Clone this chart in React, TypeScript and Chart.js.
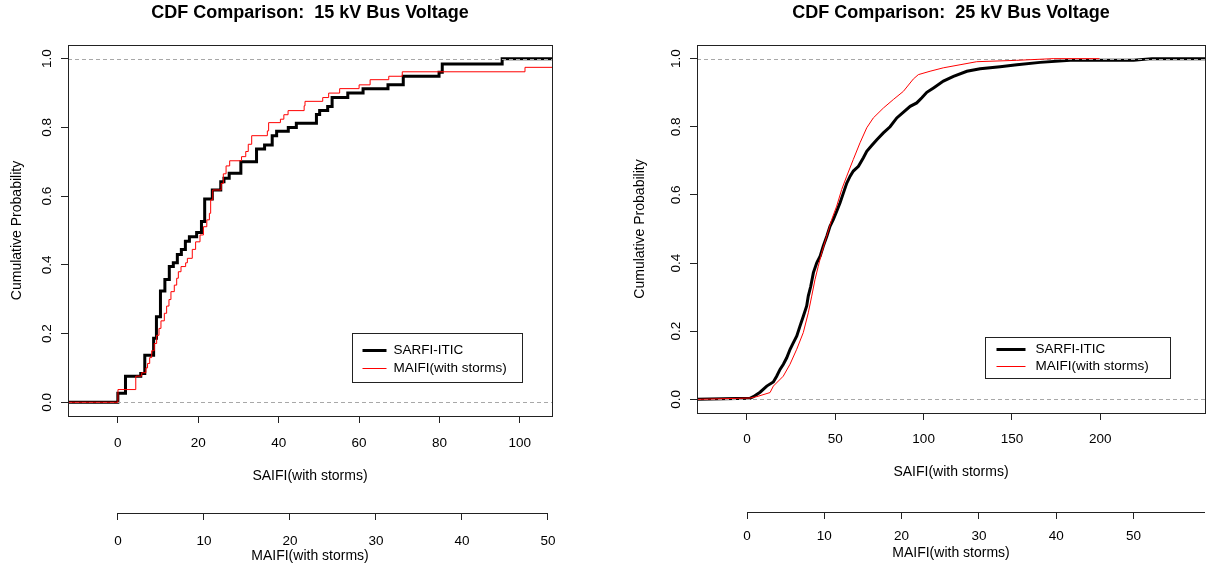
import React, { useEffect, useRef } from "react";
import { Chart, registerables } from "chart.js";

Chart.register(...registerables);

// ---------------- data ----------------

const Y_TICKS = [0, 0.2, 0.4, 0.6, 0.8, 1.0];
const Y_RANGE = [-0.04, 1.04];

// 15 kV bus: SARFI-ITIC empirical CDF on the SAIFI axis
const SARFI_15_X = [0, 1.9, 5.7, 6.7, 8.9, 9.6, 10.6, 11.7, 12.8, 13.8, 14.8, 15.8, 16.8, 17.8, 19.6, 20.8, 21.6, 23.5, 25.6, 26.4, 27.7, 30.6, 34.5, 36.5, 38.4, 39.5, 42.4, 44.4, 49.4, 50.2, 52.2, 53.3, 57.2, 61.0, 67.2, 71.0, 79.9, 80.7, 95.6];
const SARFI_15_P = [0.026, 0.076, 0.084, 0.137, 0.186, 0.249, 0.324, 0.357, 0.395, 0.406, 0.43, 0.445, 0.469, 0.482, 0.494, 0.526, 0.592, 0.618, 0.642, 0.652, 0.667, 0.7, 0.737, 0.749, 0.776, 0.789, 0.8, 0.812, 0.838, 0.849, 0.861, 0.887, 0.9, 0.913, 0.924, 0.949, 0.961, 0.985, 1.0];

// 15 kV bus: MAIFI empirical CDF on the MAIFI axis
const MAIFI_15_X = [0, 2.07, 2.76, 3.25, 3.44, 3.69, 3.92, 4.22, 4.5, 4.77, 5.0, 5.39, 5.66, 5.93, 6.16, 6.55, 6.83, 7.02, 7.33, 7.87, 8.07, 8.64, 9.03, 9.54, 9.94, 10.33, 10.63, 10.78, 11.02, 12.0, 12.25, 12.57, 12.99, 14.37, 14.86, 15.15, 15.55, 17.37, 17.52, 18.89, 19.29, 19.78, 21.65, 21.75, 23.81, 24.5, 25.78, 28.04, 29.32, 31.49, 33.06, 47.33];
const MAIFI_15_P = [0.037, 0.076, 0.086, 0.1, 0.113, 0.13, 0.15, 0.171, 0.195, 0.215, 0.237, 0.259, 0.28, 0.299, 0.322, 0.341, 0.361, 0.38, 0.395, 0.406, 0.419, 0.445, 0.467, 0.487, 0.511, 0.531, 0.55, 0.589, 0.618, 0.637, 0.665, 0.688, 0.703, 0.715, 0.73, 0.751, 0.776, 0.79, 0.814, 0.824, 0.837, 0.849, 0.863, 0.876, 0.887, 0.9, 0.913, 0.924, 0.939, 0.949, 0.962, 0.975];

const SAIFI_15_TICKS = [0, 20, 40, 60, 80, 100];
const MAIFI_15_TICKS = [0, 10, 20, 30, 40, 50];
const SAIFI_15_RANGE = [-12.4, 108.0];
const MAIFI_15_RANGE = [-5.81, 50.47];

// 25 kV bus: SARFI-ITIC empirical CDF on the SAIFI axis
const SARFI_25_X = [1.7, 3.6, 7.4, 11.2, 14.9, 16.8, 18.7, 20.6, 22.5, 24.4, 26.2, 28.2, 30.0, 31.9, 33.8, 34.7, 36.1, 37.6, 39.5, 41.4, 43.2, 45.2, 47.0, 48.9, 50.8, 52.7, 54.6, 56.5, 58.4, 60.2, 63.1, 65.9, 67.8, 70.6, 73.5, 77.2, 81.0, 84.8, 88.6, 92.4, 96.1, 99.0, 101.8, 105.6, 111.2, 116.9, 124.5, 132.0, 143.3, 152.8, 166.0, 183.0, 218.9, 229.3];
const SARFI_25_P = [0.003, 0.008, 0.021, 0.039, 0.051, 0.068, 0.088, 0.103, 0.122, 0.147, 0.166, 0.186, 0.215, 0.244, 0.274, 0.303, 0.332, 0.372, 0.401, 0.42, 0.45, 0.479, 0.508, 0.528, 0.552, 0.577, 0.606, 0.635, 0.655, 0.67, 0.684, 0.709, 0.728, 0.745, 0.762, 0.782, 0.8, 0.826, 0.843, 0.86, 0.87, 0.885, 0.901, 0.914, 0.934, 0.948, 0.963, 0.97, 0.976, 0.982, 0.989, 0.995, 0.995, 1.0];

// 25 kV bus: MAIFI empirical CDF on the MAIFI axis
const MAIFI_25_X = [0.42, 1.26, 2.98, 3.41, 4.69, 5.56, 6.43, 7.28, 7.93, 8.37, 8.8, 9.22, 9.66, 10.31, 10.96, 11.6, 12.25, 12.9, 13.75, 14.62, 15.49, 16.34, 17.64, 18.93, 20.23, 21.51, 22.16, 23.68, 25.39, 27.56, 29.72, 34.9, 39.6, 45.6];
const MAIFI_25_P = [0.004, 0.008, 0.02, 0.039, 0.068, 0.103, 0.147, 0.196, 0.254, 0.303, 0.352, 0.391, 0.43, 0.479, 0.528, 0.567, 0.616, 0.655, 0.704, 0.753, 0.797, 0.826, 0.855, 0.88, 0.904, 0.94, 0.953, 0.963, 0.973, 0.982, 0.991, 0.995, 1.0, 1.0];

const SAIFI_25_TICKS = [0, 50, 100, 150, 200];
const MAIFI_25_TICKS = [0, 10, 20, 30, 40, 50];
const SAIFI_25_RANGE = [-28.3, 259.3];
const MAIFI_25_RANGE = [-6.47, 59.25];

const SERIES_LABELS = ["SARFI-ITIC", "MAIFI(with storms)"];

// ---------------- styling ----------------

const FONT = "'Liberation Sans', Arial, Helvetica, sans-serif";
const TEXT = "#000";
const AXIS = "#222";

type Pt = { x: number; y: number };

function cdfPoints(xs: number[], ps: number[], xmin: number, xmax: number, extendRight: boolean): Pt[] {
  const pts: Pt[] = [{ x: xmin, y: 0 }];
  xs.forEach((x, i) => pts.push({ x, y: ps[i] }));
  if (extendRight) pts.push({ x: xmax, y: ps[ps.length - 1] });
  return pts;
}

// Reference lines at 0 and 1, drawn after the first (black) curve so the red one sits on top
const refLinePlugin = {
  id: "cdfRefLines",
  afterDatasetDraw(chart: any, args: any) {
    if (args.index !== 0) return;
    const { ctx, chartArea } = chart;
    const y = chart.scales.y;
    ctx.save();
    ctx.beginPath();
    ctx.rect(chartArea.left, chartArea.top, chartArea.right - chartArea.left, chartArea.bottom - chartArea.top);
    ctx.clip();
    ctx.strokeStyle = "#a8a8a8";
    ctx.lineWidth = 1;
    ctx.setLineDash([4, 3]);
    [0, 1].forEach((v) => {
      const py = Math.round(y.getPixelForValue(v)) + 0.5;
      ctx.beginPath();
      ctx.moveTo(chartArea.left, py);
      ctx.lineTo(chartArea.right, py);
      ctx.stroke();
    });
    ctx.restore();
  },
};

// Plot frame, the MAIFI axis line, and the boxed legend
const framePlugin = {
  id: "cdfFrame",
  afterDraw(chart: any, _args: any, opts: any) {
    const { ctx, chartArea } = chart;
    ctx.save();
    ctx.strokeStyle = AXIS;
    ctx.lineWidth = 1;
    ctx.setLineDash([]);
    ctx.strokeRect(
      Math.round(chartArea.left) + 0.5,
      Math.round(chartArea.top) + 0.5,
      Math.round(chartArea.right - chartArea.left),
      Math.round(chartArea.bottom - chartArea.top)
    );

    // secondary (MAIFI) axis line
    const x2 = chart.scales.x2;
    const ticks = x2.ticks.map((t: any) => t.value);
    const x0 = x2.getPixelForValue(ticks[0]);
    const x1 = opts.lineToEdge ? x2.right : x2.getPixelForValue(ticks[ticks.length - 1]);
    const ly = Math.round(x2.top) + 0.5;
    ctx.beginPath();
    ctx.moveTo(x0, ly);
    ctx.lineTo(x1, ly);
    ctx.stroke();

    // legend
    const lg = opts.legend;
    const bx = Math.round(chartArea.right - lg.right - lg.width) + 0.5;
    const by = Math.round(chartArea.bottom - lg.bottom - lg.height) + 0.5;
    ctx.fillStyle = "#fff";
    ctx.fillRect(bx, by, lg.width, lg.height);
    ctx.strokeStyle = AXIS;
    ctx.strokeRect(bx, by, lg.width, lg.height);
    ctx.font = `${lg.fontSize}px ${FONT}`;
    ctx.textBaseline = "middle";
    ctx.textAlign = "left";
    chart.data.datasets.forEach((ds: any, i: number) => {
      const ry = by + lg.rows[i];
      ctx.strokeStyle = ds.borderColor;
      ctx.lineWidth = ds.borderWidth;
      ctx.beginPath();
      ctx.moveTo(bx + lg.lineX, ry);
      ctx.lineTo(bx + lg.lineX + lg.lineLen, ry);
      ctx.stroke();
      ctx.fillStyle = TEXT;
      ctx.fillText(ds.label, bx + lg.textX, ry);
    });
    ctx.restore();
  },
};

type PanelProps = {
  title: string;
  width: number;
  left: number;
  sarfiX: number[];
  sarfiP: number[];
  maifiX: number[];
  maifiP: number[];
  saifiTicks: number[];
  maifiTicks: number[];
  saifiRange: number[];
  maifiRange: number[];
  stepped: boolean;
  maifiExtend: boolean;
  geom: any;
};

function CdfPanel(p: PanelProps) {
  const ref = useRef<HTMLCanvasElement | null>(null);

  useEffect(() => {
    if (!ref.current) return;
    const g = p.geom;
    const tickFont = { family: FONT, size: 13.5 };
    const titleFont = { family: FONT, size: 14 };

    const chart = new Chart(ref.current, {
      type: "line",
      data: {
        datasets: [
          {
            label: SERIES_LABELS[0],
            data: cdfPoints(p.sarfiX, p.sarfiP, p.saifiRange[0], p.saifiRange[1], true),
            xAxisID: "x",
            yAxisID: "y",
            borderColor: "#000000",
            borderWidth: 3,
            stepped: p.stepped ? "before" : false,
            tension: 0,
            pointRadius: 0,
            fill: false,
            order: 1,
          },
          {
            label: SERIES_LABELS[1],
            data: cdfPoints(p.maifiX, p.maifiP, p.maifiRange[0], p.maifiRange[1], p.maifiExtend),
            xAxisID: "x2",
            yAxisID: "y",
            borderColor: "#ff0000",
            borderWidth: 1,
            stepped: p.stepped ? "before" : false,
            tension: 0,
            pointRadius: 0,
            fill: false,
            order: 0,
          },
        ],
      },
      options: {
        responsive: false,
        animation: false,
        devicePixelRatio: 1,
        parsing: false,
        normalized: true,
        layout: { padding: { left: g.padLeft, right: g.padRight, top: 0, bottom: 0 } },
        plugins: {
          legend: { display: false },
          tooltip: { enabled: false },
          title: {
            display: true,
            text: p.title,
            fullSize: false,
            color: TEXT,
            font: { family: FONT, size: 18, weight: "bold" },
            padding: { top: 2.2, bottom: 21.2 },
          },
          cdfFrame: { lineToEdge: g.lineToEdge, legend: g.legend },
        } as any,
        scales: {
          x: {
            type: "linear",
            position: "bottom",
            min: p.saifiRange[0],
            max: p.saifiRange[1],
            afterBuildTicks: (s: any) => {
              s.ticks = p.saifiTicks.map((v) => ({ value: v }));
            },
            afterFit: (s: any) => {
              s.height = g.xHeight;
            },
            grid: { display: true, drawOnChartArea: false, drawTicks: true, tickLength: 7, tickColor: AXIS, tickWidth: 1 },
            border: { display: false },
            ticks: { color: TEXT, font: tickFont, padding: g.xTickPad, maxRotation: 0, autoSkip: false },
            title: { display: true, text: "SAIFI(with storms)", color: TEXT, font: titleFont, padding: { top: 0, bottom: g.xTitlePad } },
          },
          x2: {
            type: "linear",
            position: "bottom",
            min: p.maifiRange[0],
            max: p.maifiRange[1],
            afterBuildTicks: (s: any) => {
              s.ticks = p.maifiTicks.map((v) => ({ value: v }));
            },
            afterFit: (s: any) => {
              s.height = g.x2Height;
            },
            grid: { display: true, drawOnChartArea: false, drawTicks: true, tickLength: 7, tickColor: AXIS, tickWidth: 1 },
            border: { display: false },
            ticks: { color: TEXT, font: tickFont, padding: g.x2TickPad, maxRotation: 0, autoSkip: false },
            title: { display: true, text: "MAIFI(with storms)", color: TEXT, font: titleFont, padding: { top: 0, bottom: g.x2TitlePad } },
          },
          y: {
            type: "linear",
            position: "left",
            min: Y_RANGE[0],
            max: Y_RANGE[1],
            afterBuildTicks: (s: any) => {
              s.ticks = Y_TICKS.map((v) => ({ value: v }));
            },
            afterFit: (s: any) => {
              s.width = g.yWidth;
            },
            grid: { display: true, drawOnChartArea: false, drawTicks: true, tickLength: 7, tickColor: AXIS, tickWidth: 1 },
            border: { display: false },
            ticks: {
              color: TEXT,
              font: tickFont,
              padding: 4,
              minRotation: 90,
              maxRotation: 90,
              crossAlign: "center",
              callback: (v: any) => Number(v).toFixed(1),
            },
            title: { display: true, text: "Cumulative Probability", color: TEXT, font: titleFont, padding: { top: 8.6, bottom: 0 } },
          },
        },
      } as any,
      plugins: [refLinePlugin, framePlugin],
    });
    return () => chart.destroy();
  }, []);

  return (
    <canvas
      ref={ref}
      width={p.width}
      height={566}
      style={{ position: "absolute", left: p.left, top: 0, width: p.width, height: 566 }}
    />
  );
}

export default function App() {
  return (
    <div style={{ position: "absolute", left: 0, top: 0, width: 1209, height: 566, background: "#fff", overflow: "hidden" }}>
      <CdfPanel
        title="CDF Comparison:  15 kV Bus Voltage"
        width={604}
        left={0}
        sarfiX={SARFI_15_X}
        sarfiP={SARFI_15_P}
        maifiX={MAIFI_15_X}
        maifiP={MAIFI_15_P}
        saifiTicks={SAIFI_15_TICKS}
        maifiTicks={MAIFI_15_TICKS}
        saifiRange={SAIFI_15_RANGE}
        maifiRange={MAIFI_15_RANGE}
        stepped={true}
        maifiExtend={true}
        geom={{
          padLeft: 0,
          padRight: 52,
          yWidth: 68,
          xHeight: 97,
          x2Height: 53,
          xTickPad: 12,
          xTitlePad: 28.6,
          x2TickPad: 13,
          x2TitlePad: 1.6,
          lineToEdge: false,
          legend: { right: 30, bottom: 34, width: 170, height: 49, lineX: 10, lineLen: 24, textX: 41, rows: [17, 35], fontSize: 13.5 },
        }}
      />
      <CdfPanel
        title="CDF Comparison:  25 kV Bus Voltage"
        width={605}
        left={604}
        sarfiX={SARFI_25_X}
        sarfiP={SARFI_25_P}
        maifiX={MAIFI_25_X}
        maifiP={MAIFI_25_P}
        saifiTicks={SAIFI_25_TICKS}
        maifiTicks={MAIFI_25_TICKS}
        saifiRange={SAIFI_25_RANGE}
        maifiRange={MAIFI_25_RANGE}
        stepped={false}
        maifiExtend={false}
        geom={{
          padLeft: 19,
          padRight: 4,
          yWidth: 74,
          xHeight: 99,
          x2Height: 54,
          xTickPad: 11,
          xTitlePad: 31.6,
          x2TickPad: 9,
          x2TitlePad: 4.6,
          lineToEdge: true,
          legend: { right: 35, bottom: 35, width: 185, height: 41, lineX: 11, lineLen: 29, textX: 50, rows: [12, 29], fontSize: 13.5 },
        }}
      />
    </div>
  );
}
